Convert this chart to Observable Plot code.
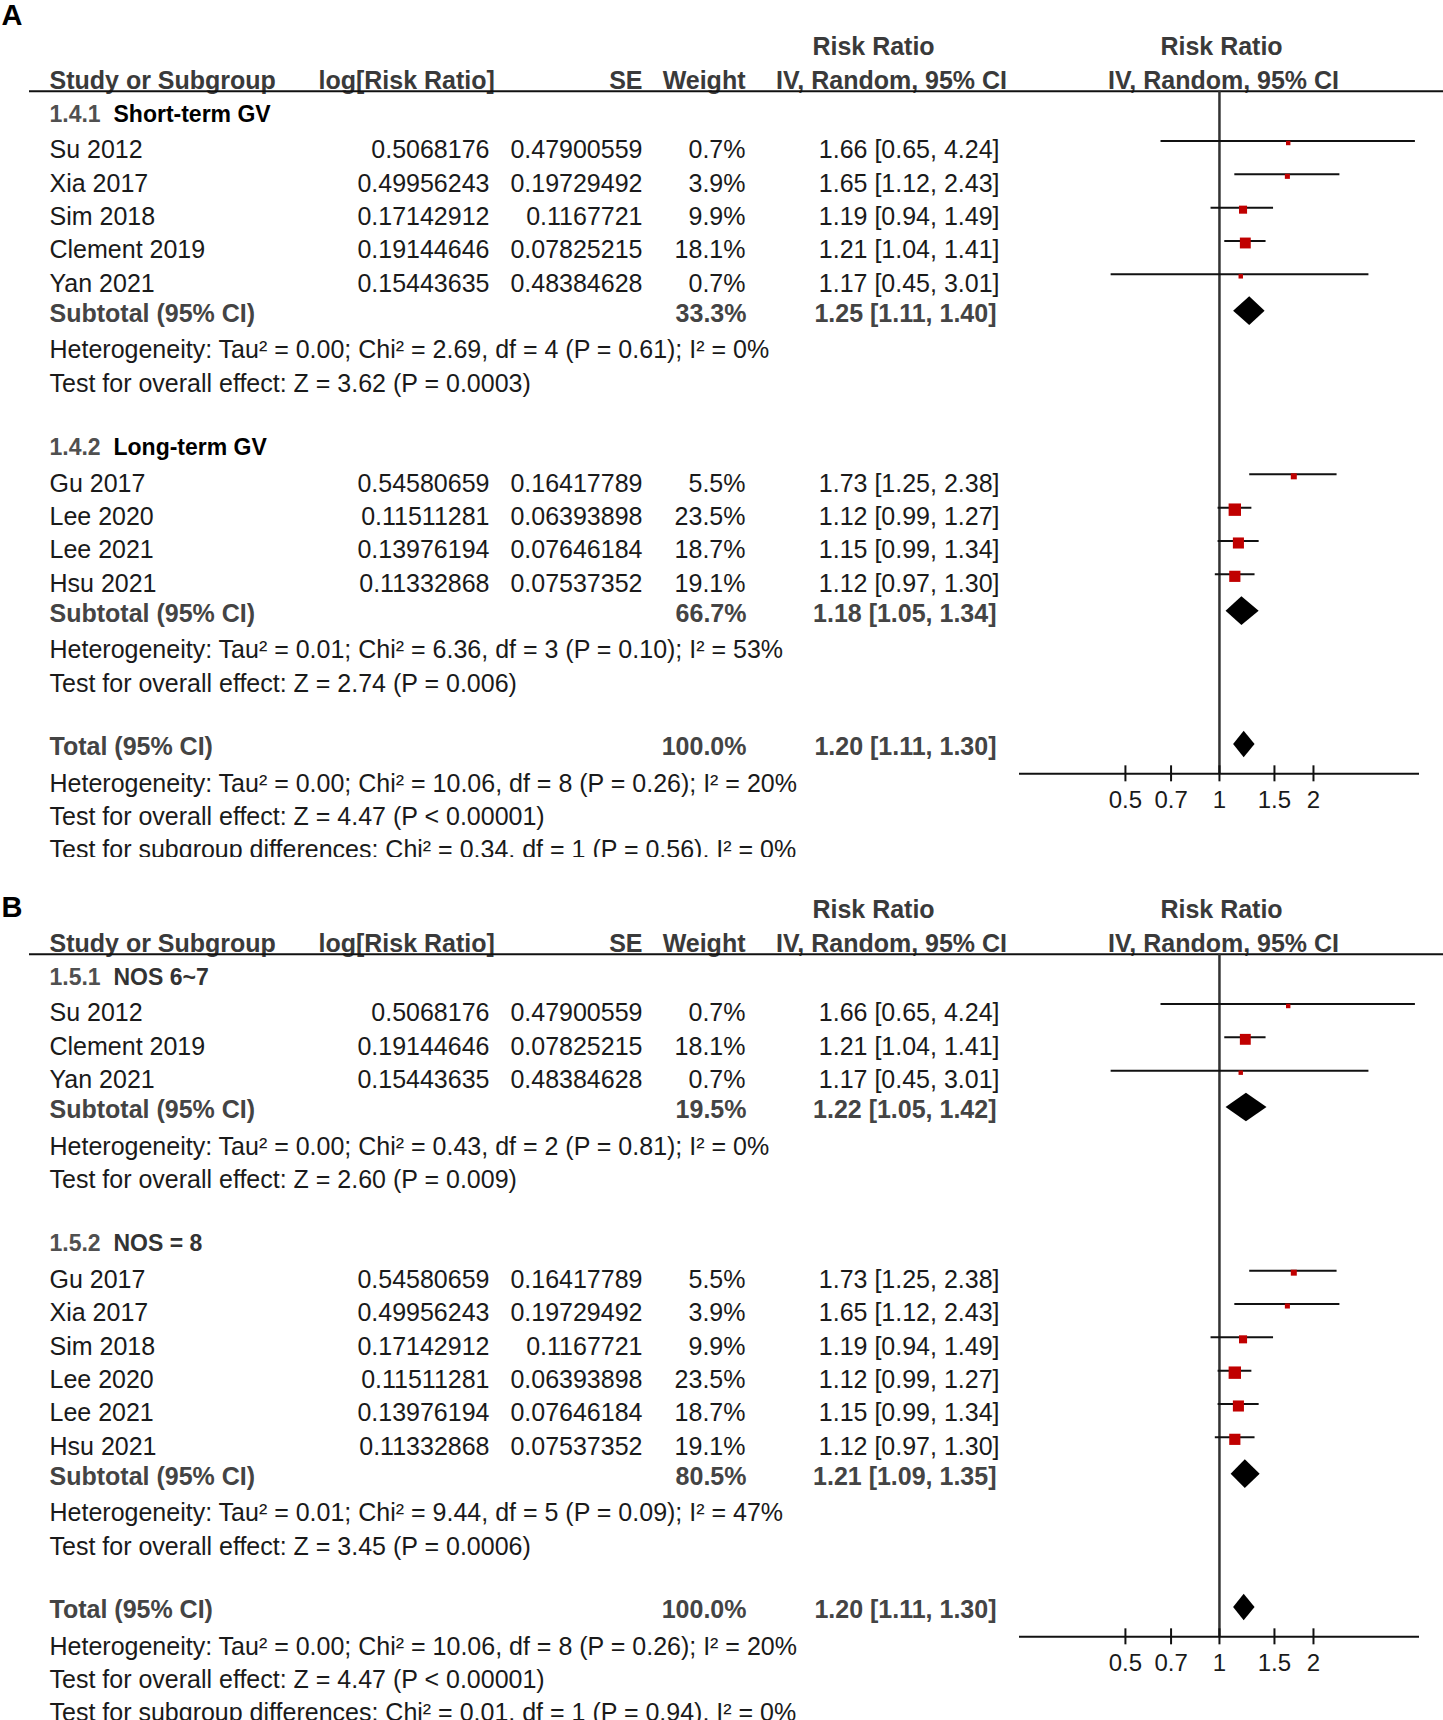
<!DOCTYPE html>
<html><head><meta charset="utf-8">
<script src="https://cdn.jsdelivr.net/npm/d3@7"></script>
<script src="https://cdn.jsdelivr.net/npm/@observablehq/plot@0.6"></script>
<style>
body{margin:0;background:#fff;}
.panel{width:1443px;height:857px;overflow:hidden;position:relative;}
.gap{height:6px;}
svg{overflow:hidden;}
</style></head><body>
<div id="A" class="panel"></div><div class="gap"></div><div id="B" class="panel"></div>
<script>
// ---------- study data ----------
const studyNames = ["Su 2012","Xia 2017","Sim 2018","Clement 2019","Yan 2021","Gu 2017","Lee 2020","Lee 2021","Hsu 2021"];
const logRR      = [0.5068176,0.49956243,0.17142912,0.19144646,0.15443635,0.54580659,0.11511281,0.13976194,0.11332868];
const seLogRR    = [0.47900559,0.19729492,0.1167721,0.07825215,0.48384628,0.16417789,0.06393898,0.07646184,0.07537352];
const weightPct  = [0.7,3.9,9.9,18.1,0.7,5.5,23.5,18.7,19.1];
const riskRatio  = [1.66,1.65,1.19,1.21,1.17,1.73,1.12,1.15,1.12];
const ciLow      = [0.65,1.12,0.94,1.04,0.45,1.25,0.99,0.99,0.97];
const ciHigh     = [4.24,2.43,1.49,1.41,3.01,2.38,1.27,1.34,1.30];

// ---------- panel A subgroups ----------
const groupCodesA   = ["1.4.1","1.4.2"];
const groupNamesA   = ["Short-term GV","Long-term GV"];
const groupMembersA = [["Su 2012","Xia 2017","Sim 2018","Clement 2019","Yan 2021"],["Gu 2017","Lee 2020","Lee 2021","Hsu 2021"]];
const subWeightA = [33.3,66.7];
const subRRA     = [1.25,1.18];
const subLowA    = [1.11,1.05];
const subHighA   = [1.40,1.34];
const subHetA    = ["Heterogeneity: Tau² = 0.00; Chi² = 2.69, df = 4 (P = 0.61); I² = 0%",
                    "Heterogeneity: Tau² = 0.01; Chi² = 6.36, df = 3 (P = 0.10); I² = 53%"];
const subTestA   = ["Test for overall effect: Z = 3.62 (P = 0.0003)",
                    "Test for overall effect: Z = 2.74 (P = 0.006)"];
const subgroupDiffA = "Test for subgroup differences: Chi² = 0.34, df = 1 (P = 0.56), I² = 0%";

// ---------- panel B subgroups ----------
const groupCodesB   = ["1.5.1","1.5.2"];
const groupNamesB   = ["NOS 6~7","NOS = 8"];
const groupMembersB = [["Su 2012","Clement 2019","Yan 2021"],["Gu 2017","Xia 2017","Sim 2018","Lee 2020","Lee 2021","Hsu 2021"]];
const subWeightB = [19.5,80.5];
const subRRB     = [1.22,1.21];
const subLowB    = [1.05,1.09];
const subHighB   = [1.42,1.35];
const subHetB    = ["Heterogeneity: Tau² = 0.00; Chi² = 0.43, df = 2 (P = 0.81); I² = 0%",
                    "Heterogeneity: Tau² = 0.01; Chi² = 9.44, df = 5 (P = 0.09); I² = 47%"];
const subTestB   = ["Test for overall effect: Z = 2.60 (P = 0.009)",
                    "Test for overall effect: Z = 3.45 (P = 0.0006)"];
const subgroupDiffB = "Test for subgroup differences: Chi² = 0.01, df = 1 (P = 0.94), I² = 0%";

// ---------- overall ----------
const totalWeight = 100.0, totalRR = 1.20, totalLow = 1.11, totalHigh = 1.30;
const totalHet  = "Heterogeneity: Tau² = 0.00; Chi² = 10.06, df = 8 (P = 0.26); I² = 20%";
const totalTest = "Test for overall effect: Z = 4.47 (P < 0.00001)";
const axisTicks = [0.5, 0.7, 1, 1.5, 2];
const xDomain = [0.229, 4.37];

// ---------- layout ----------
const U = 33.333;           // px per line
const H = 857;              // svg height
const FONT = "'Liberation Sans', Arial, Helvetica, sans-serif";
const fmtCI = (r,l,h) => `${r.toFixed(2)} [${l.toFixed(2)}, ${h.toFixed(2)}]`;

function build(codes, names, members, sw, srr, slo, shi, shet, stest, sdiff) {
  const lines = [], studies = [], diamonds = [];
  let k = 3;
  codes.forEach((code, g) => {
    lines.push({k, kind:"group", code, name:names[g]}); k++;
    members[g].forEach(nm => {
      const i = studyNames.indexOf(nm);
      lines.push({k, kind:"study", label:nm, lr:String(logRR[i]), se:String(seLogRR[i]),
                  w:weightPct[i].toFixed(1)+"%", ci:fmtCI(riskRatio[i], ciLow[i], ciHigh[i])});
      studies.push({k, rr:riskRatio[i], lo:ciLow[i], hi:ciHigh[i], w:weightPct[i]});
      k++;
    });
    lines.push({k, kind:"sub", label:"Subtotal (95% CI)", w:sw[g].toFixed(1)+"%", ci:fmtCI(srr[g], slo[g], shi[g])});
    diamonds.push({id:"s"+g, k, rr:srr[g], lo:slo[g], hi:shi[g], h:0.43}); k++;
    lines.push({k, kind:"note", label:shet[g]}); k++;
    lines.push({k, kind:"note", label:stest[g]}); k++;
    k++;
  });
  lines.push({k, kind:"sub", label:"Total (95% CI)", w:totalWeight.toFixed(1)+"%", ci:fmtCI(totalRR, totalLow, totalHigh)});
  diamonds.push({id:"t", k, rr:totalRR, lo:totalLow, hi:totalHigh, h:0.4}); k++;
  lines.push({k, kind:"note", label:totalHet}); k++;
  lines.push({k, kind:"note", label:totalTest}); k++;
  lines.push({k, kind:"note", label:sdiff}); k++;
  return {lines, studies, diamonds};
}

function panel(letter, letterY, nameColor, P) {
  const yOf = d => d.k + 0.5 + ((d.kind === "sub" || d.kind === "group") ? -0.09 : 0);
  const body = P.lines.filter(d => d.kind === "study" || d.kind === "note");
  const bold = P.lines.filter(d => d.kind === "sub");
  const groups = P.lines.filter(d => d.kind === "group");
  const studyRows = P.lines.filter(d => d.kind === "study");
  const dpts = P.diamonds.flatMap(d => {
    const c = d.k + 0.5 - 0.18;
    return [{id:d.id, y:c-d.h, x1:d.rr, x2:d.rr},{id:d.id, y:c, x1:d.lo, x2:d.hi},{id:d.id, y:c+d.h, x1:d.rr, x2:d.rr}];
  });
  const axisY = 23.2, ruleTop = 2.72;
  const t = (o) => Object.assign({fontFamily:FONT, fontSize:25, frameAnchor:"left"}, o);
  const hdr = {fontWeight:"bold", fill:"#3a3a3a"};
  const headRow = [{k:2}];
  const headTop = [{k:1}];
  const hy = d => d.k + 0.5 - 0.09;
  return Plot.plot({
    width:1443, height:H, margin:0,
    style:{fontFamily:FONT, background:"white", overflow:"hidden"},
    x:{type:"log", domain:xDomain, range:[1019,1419], axis:null},
    y:{domain:[0, H/U], range:[0, H], axis:null},
    r:{type:"sqrt", domain:[0, 23.5], range:[0, 7.0]},
    marks:[
      // panel letter
      Plot.text([letter], {y:letterY, text:d=>d, ...t({dx:1, fontSize:29, fontWeight:"bold", fill:"#000", textAnchor:"start"})}),
      // headers
      Plot.text(headTop, {y:hy, text:()=> "Risk Ratio", ...t({dx:873, textAnchor:"middle", ...hdr})}),
      Plot.text(headTop, {y:hy, text:()=> "Risk Ratio", ...t({dx:1221, textAnchor:"middle", ...hdr})}),
      Plot.text(headRow, {y:hy, text:()=> "Study or Subgroup", ...t({dx:49, textAnchor:"start", ...hdr})}),
      Plot.text(headRow, {y:hy, text:()=> "log[Risk Ratio]", ...t({dx:318, textAnchor:"start", ...hdr})}),
      Plot.text(headRow, {y:hy, text:()=> "SE", ...t({dx:642, textAnchor:"end", ...hdr})}),
      Plot.text(headRow, {y:hy, text:()=> "Weight", ...t({dx:745, textAnchor:"end", ...hdr})}),
      Plot.text(headRow, {y:hy, text:()=> "IV, Random, 95% CI", ...t({dx:891, textAnchor:"middle", ...hdr})}),
      Plot.text(headRow, {y:hy, text:()=> "IV, Random, 95% CI", ...t({dx:1223, textAnchor:"middle", ...hdr})}),
      Plot.ruleY([ruleTop], {insetLeft:29, stroke:"#111", strokeWidth:2}),
      // group headings
      Plot.text(groups, {y:yOf, text:"code", ...t({dx:49, fontSize:23, textAnchor:"start", fontWeight:"bold", fill:"#505050"})}),
      Plot.text(groups, {y:yOf, text:"name", ...t({dx:113, fontSize:23, textAnchor:"start", fontWeight:"bold", fill:nameColor})}),
      // body text
      Plot.text(body, {y:yOf, text:"label", ...t({dx:49, textAnchor:"start", fill:"#1a1a1a"})}),
      Plot.text(studyRows, {y:yOf, text:"lr", ...t({dx:489, textAnchor:"end", fill:"#1a1a1a"})}),
      Plot.text(studyRows, {y:yOf, text:"se", ...t({dx:642, textAnchor:"end", fill:"#1a1a1a"})}),
      Plot.text(studyRows, {y:yOf, text:"w", ...t({dx:745, textAnchor:"end", fill:"#1a1a1a"})}),
      Plot.text(studyRows, {y:yOf, text:"ci", ...t({dx:999, textAnchor:"end", fill:"#1a1a1a"})}),
      // subtotal / total rows
      Plot.text(bold, {y:yOf, text:"label", ...t({dx:49, textAnchor:"start", fontWeight:"bold", fill:"#444"})}),
      Plot.text(bold, {y:yOf, text:"w", ...t({dx:746, textAnchor:"end", fontWeight:"bold", fill:"#444"})}),
      Plot.text(bold, {y:yOf, text:"ci", ...t({dx:996, textAnchor:"end", fontWeight:"bold", fill:"#444"})}),
      // forest: reference line and axis
      Plot.ruleX([1], {y1:ruleTop, y2:axisY, stroke:"#333", strokeWidth:2.5}),
      Plot.ruleY([axisY], {x1:xDomain[0], x2:xDomain[1], stroke:"#111", strokeWidth:2}),
      Plot.ruleX(axisTicks, {x:d=>d, y1:axisY-0.24, y2:axisY+0.24, stroke:"#111", strokeWidth:2}),
      Plot.text(axisTicks, {x:d=>d, y:24.0, text:d=>String(d), fontFamily:FONT, fontSize:24, fill:"#1a1a1a"}),
      // CI lines and squares
      Plot.ruleY(P.studies, {y:d=>d.k+0.5-0.285, x1:"lo", x2:"hi", stroke:"#111", strokeWidth:2}),
      Plot.dot(P.studies, {x:"rr", y:d=>d.k+0.5-0.225, r:d=>Math.max(d.w, 3), symbol:"square", fill:"#c00000", stroke:"none"}),
      // diamonds
      Plot.areaX(dpts, {y:"y", x1:"x1", x2:"x2", z:"id", fill:"#000", curve:"linear"})
    ]
  });
}

const PA = build(groupCodesA, groupNamesA, groupMembersA, subWeightA, subRRA, subLowA, subHighA, subHetA, subTestA, subgroupDiffA);
const PB = build(groupCodesB, groupNamesB, groupMembersB, subWeightB, subRRB, subLowB, subHighB, subHetB, subTestB, subgroupDiffB);
document.getElementById("A").append(panel("A", 15.5/U, "#000", PA));
document.getElementById("B").append(panel("B", 44/U, "#333", PB));
</script>
</body></html>
